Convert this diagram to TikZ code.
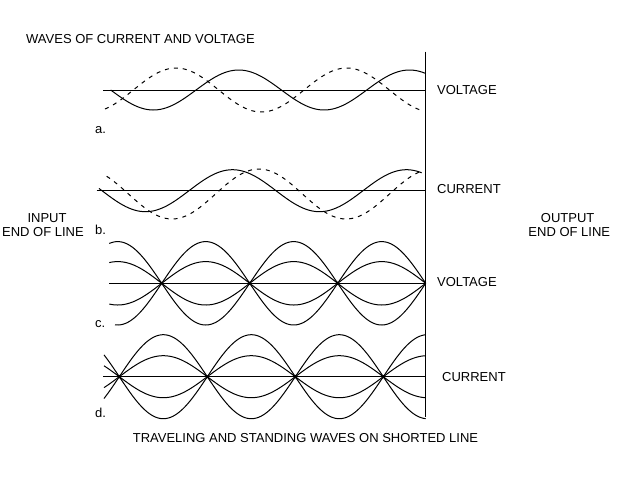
\documentclass[tikz,border=0pt]{standalone}
\usepackage{fontspec}
\setmainfont{Liberation Sans}
\begin{document}
\begin{tikzpicture}[x=1pt,y=-1pt,
  lbl/.style={inner sep=0pt,font=\fontsize{13}{15}\selectfont},
  wave/.style={line width=1pt,line join=round},
  dwave/.style={line width=1pt,dash pattern=on 4pt off 5pt},
  axis/.style={line width=0.9pt}]
\useasboundingbox (0,0) rectangle (640,480);
\fill[white] (0,0) rectangle (640,480);
% vertical shorted end line
\coordinate (vtop) at (425.7,51.7);
\coordinate (vbot) at (425.7,416.7);
\draw[axis] (vtop) -- (vbot);
% axes
\coordinate (a0) at (103,90);   \coordinate (a1) at (425.7,90);
\coordinate (b0) at (96.7,190.7); \coordinate (b1) at (425.7,190.7);
\coordinate (c0) at (109.3,283.3); \coordinate (c1) at (425.7,283.3);
\coordinate (d0) at (103,376.7); \coordinate (d1) at (425.7,376.7);
\draw[axis] (a0) -- (a1);
\draw[axis] (b0) -- (b1);
\draw[axis] (c0) -- (c1);
\draw[axis] (d0) -- (d1);
% panel a
\draw[wave] plot[domain=110.7:425,samples=120,smooth] (\x,{90+20*sin((\x-110.7)/170.7*360)});
\draw[dwave] plot[domain=105:423,samples=120,smooth] (\x,{90-22*cos((\x-176)/170.7*360)});
% panel b
\draw[wave] plot[domain=99:421.7,samples=120,smooth] (\x,{190.7+21*sin((\x-102)/174*360)});
\draw[dwave] plot[domain=106.7:423,samples=120,smooth] (\x,{194+25*sin((\x-128.5)/174*360)});
% panel c standing waves
\draw[wave] plot[domain=109.3:425.7,samples=200] (\x,{283.3-41.7*abs(sin((\x-425.7)/88*180))});
\draw[wave] plot[domain=109.3:425.7,samples=200] (\x,{283.3-21.7*abs(sin((\x-425.7)/88*180))});
\draw[wave] plot[domain=109.3:425.7,samples=200] (\x,{283.3+21.7*abs(sin((\x-425.7)/88*180))});
\draw[wave] plot[domain=115:425.7,samples=200] (\x,{283.3+41.7*abs(sin((\x-425.7)/88*180))});
% panel d standing waves
\draw[wave] plot[domain=104:425.7,samples=200] (\x,{376.7-42*abs(sin((\x-383.3)/88*180))});
\draw[wave] plot[domain=104:425.7,samples=200] (\x,{376.7-21*abs(sin((\x-383.3)/88*180))});
\draw[wave] plot[domain=104:425.7,samples=200] (\x,{376.7+21*abs(sin((\x-383.3)/88*180))});
\draw[wave] plot[domain=104:425.7,samples=200] (\x,{376.7+42*abs(sin((\x-383.3)/88*180))});
% texts
\node[lbl,anchor=west] (title) at (26,38.7) {WAVES OF CURRENT AND VOLTAGE};
\node[lbl] (bottom) at (305.5,438) {TRAVELING AND STANDING WAVES ON SHORTED LINE};
\node[lbl,anchor=west] (va) at (437,90) {VOLTAGE};
\node[lbl,anchor=west] (cb) at (437,189) {CURRENT};
\node[lbl,anchor=west] (vc) at (437,282) {VOLTAGE};
\node[lbl,anchor=west] (cd) at (442,377) {CURRENT};
\node[lbl] (in1) at (47,218) {INPUT};
\node[lbl] (in2) at (43,232) {END OF LINE};
\node[lbl] (out1) at (567.7,218) {OUTPUT};
\node[lbl] (out2) at (569.3,232) {END OF LINE};
\node[lbl,anchor=base west] (la) at (95,133) {a.};
\node[lbl,anchor=base west] (lb) at (95,234) {b.};
\node[lbl,anchor=base west] (lc) at (95,327) {c.};
\node[lbl,anchor=base west] (ld) at (95,417) {d.};
\end{tikzpicture}
\end{document}
